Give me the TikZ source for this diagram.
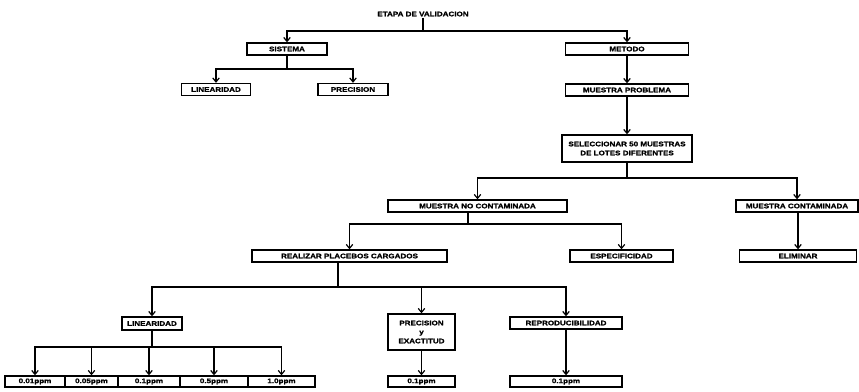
\documentclass[tikz,border=0pt]{standalone}
\usepackage{fontspec}
\newfontfamily\bxfont{Liberation Sans Bold}[FakeStretch=1.22, FakeBold=1.5]
\usetikzlibrary{arrows.meta}
\begin{document}
\begin{tikzpicture}[x=1pt,y=-1pt,
  bx/.style={draw, line width=1.3pt, inner sep=0pt, font=\bxfont\fontsize{6.6}{9}\selectfont, align=center},
  ln/.style={line width=1.3pt},
  arr/.style={line width=1.3pt, -{Straight Barb[length=4pt,width=6.5pt,line width=1.2pt]}}]
\useasboundingbox (0,0) rectangle (859,391);
% title
\node[font=\bxfont\fontsize{6.6}{8}\selectfont, inner sep=1pt] (tit) at (423,14) {ETAPA DE VALIDACION};
% SISTEMA branch
\node[bx, minimum width=80pt, minimum height=12pt] (sis) at (287,49) {SISTEMA};
\node[bx, minimum width=69pt, minimum height=12pt] (lin1) at (216,89.5) {LINEARIDAD};
\node[bx, minimum width=70pt, minimum height=12pt] (pre1) at (353,89.5) {PRECISION};
% METODO branch
\node[bx, minimum width=123pt, minimum height=12pt] (met) at (627,49) {METODO};
\node[bx, minimum width=123pt, minimum height=12pt] (mp) at (627,90) {MUESTRA PROBLEMA};
\node[bx, minimum width=130pt, minimum height=27pt] (sel) at (627,148.5) {SELECCIONAR 50 MUESTRAS\\DE LOTES DIFERENTES};
\node[bx, minimum width=179pt, minimum height=12pt] (mnc) at (477.5,206) {MUESTRA NO CONTAMINADA};
\node[bx, minimum width=122pt, minimum height=12pt] (mc) at (797,206) {MUESTRA CONTAMINADA};
\node[bx, minimum width=117pt, minimum height=12pt] (eli) at (798,256) {ELIMINAR};
\node[bx, minimum width=195pt, minimum height=12pt] (real) at (349.5,256) {REALIZAR PLACEBOS CARGADOS};
\node[bx, minimum width=103pt, minimum height=12pt] (esp) at (621.5,256) {ESPECIFICIDAD};
\node[bx, minimum width=60pt, minimum height=13pt] (lin2) at (152,323.5) {LINEARIDAD};
\node[bx, minimum width=67pt, minimum height=36pt] (pye) at (421.5,332) {PRECISION\\y\\EXACTITUD};
\node[bx, minimum width=112pt, minimum height=12pt] (rep) at (566,323) {REPRODUCIBILIDAD};
% bottom row
\node[bx, minimum width=60pt, minimum height=11pt] (b1) at (35,381.5) {0.01ppm};
\node[bx, minimum width=53pt, minimum height=11pt] (b2) at (91.5,381.5) {0.05ppm};
\node[bx, minimum width=62pt, minimum height=11pt] (b3) at (149,381.5) {0.1ppm};
\node[bx, minimum width=68pt, minimum height=11pt] (b4) at (214,381.5) {0.5ppm};
\node[bx, minimum width=67pt, minimum height=11pt] (b5) at (281.5,381.5) {1.0ppm};
\node[bx, minimum width=67pt, minimum height=11pt] (p1) at (421.5,381.5) {0.1ppm};
\node[bx, minimum width=112pt, minimum height=11pt] (r1) at (566,381.5) {0.1ppm};
% junctions
\coordinate (j1) at (423,31);
\coordinate (j2) at (287,69);
\coordinate (j3) at (627,178);
\coordinate (j4) at (468,224);
\coordinate (j5) at (338,287);
\coordinate (j6) at (152,347);
% connectors
\draw[ln] (tit.south) -- (j1);
\draw[arr] (j1) -| (sis.north);
\draw[arr] (j1) -| (met.north);
\draw[ln] (sis.south) -- (j2);
\draw[arr] (j2) -| (lin1.north);
\draw[arr] (j2) -| (pre1.north);
\draw[arr] (met) -- (mp);
\draw[arr] (mp) -- (sel);
\draw[ln] (sel.south) -- (j3);
\draw[arr] (j3) -| (mnc.north);
\draw[arr] (j3) -| (mc.north);
\draw[arr] (mc.south -| eli.north) -- (eli.north);
\draw[ln] (mnc.south -| j4) -- (j4);
\draw[arr] (j4) -| (real.north);
\draw[arr] (j4) -| (esp.north);
\draw[ln] (real.south -| j5) -- (j5);
\draw[arr] (j5) -| (lin2.north);
\draw[arr] (j5) -| (pye.north);
\draw[arr] (j5) -| (rep.north);
\draw[ln] (lin2.south) -- (j6);
\foreach \b in {b1,b2,b3,b4,b5} \draw[arr] (j6) -| (\b.north);
\draw[arr] (pye) -- (p1);
\draw[arr] (rep) -- (r1);
\end{tikzpicture}
\end{document}
